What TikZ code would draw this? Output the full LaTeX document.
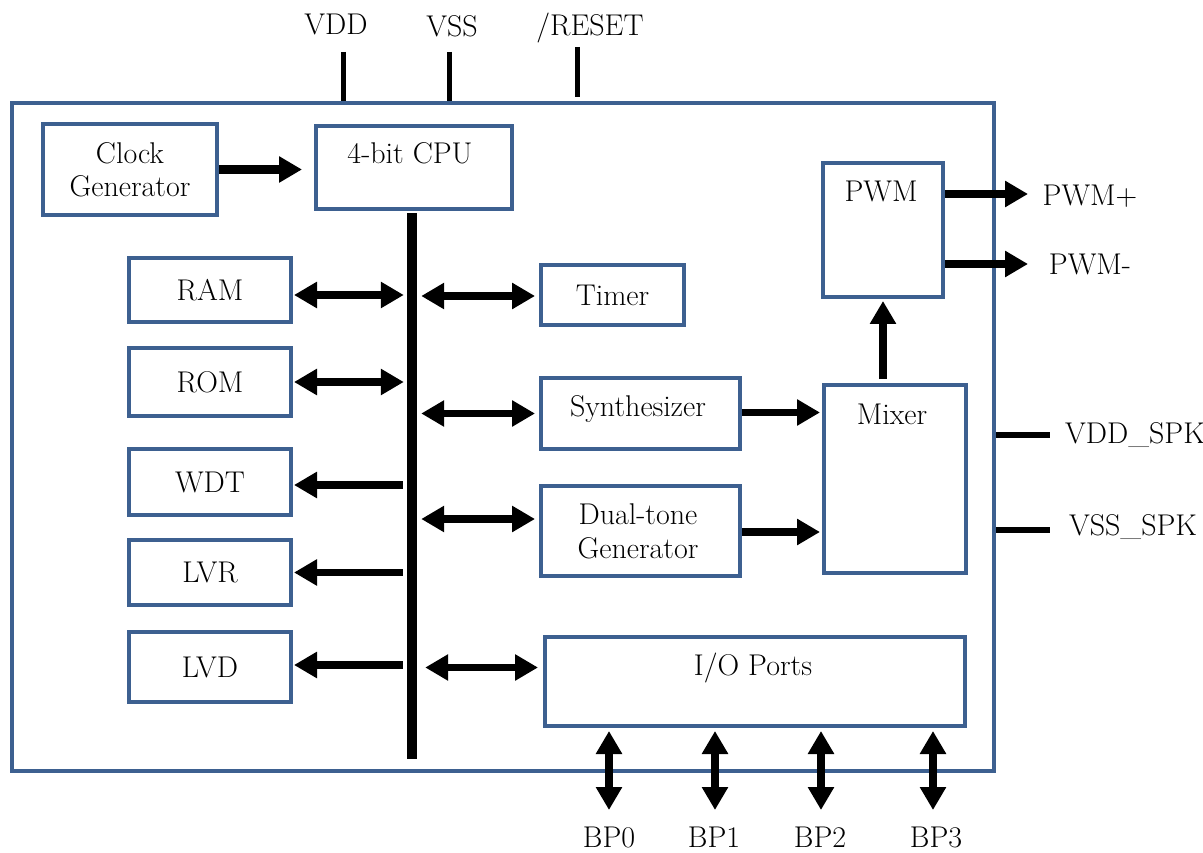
\documentclass[tikz,border=0pt]{standalone}
\usetikzlibrary{arrows.meta,calc}
\definecolor{boxblue}{HTML}{3D6090}
\begin{document}
\begin{tikzpicture}[x=1pt,y=-1pt,
  box/.style={draw=boxblue,line width=4pt,fill=white,inner sep=0pt,anchor=north west,font=\fontsize{30}{35}\selectfont,align=center},
  txt/.style={font=\fontsize{30}{35}\selectfont,inner sep=0pt},
  sarr/.style={line width=7.5pt,-{Triangle[length=23pt,width=25pt]}},
  darr/.style={line width=7.5pt,{Triangle[length=23pt,width=25pt]}-{Triangle[length=23pt,width=25pt]}},
  pin/.style={line width=5pt}]
\useasboundingbox (0,0) rectangle (1203,853);
% outer chip
\node[box,minimum width=982pt,minimum height=668pt] (chip) at (10,101) {};
% pins top
\coordinate (vddT) at (343,52);
\coordinate (vssT) at (449,52);
\coordinate (rstT) at (577,47);
\draw[pin] (vddT) -- (vddT |- chip.north);
\draw[pin] (vssT) -- (vssT |- chip.north);
\draw[pin] (rstT) -- ($(rstT |- chip.north)+(0,-4)$);
\node[txt,anchor=base] (vddL) at (336,35) {VDD};
\node[txt,anchor=base] (vssL) at (452,37) {VSS};
\node[txt,anchor=base] (rstL) at (590,36) {/RESET};
% blocks
\node[box,minimum width=174pt,minimum height=91pt] (clk) at (41,122) {Clock\\[-2pt]Generator};
\node[box,minimum width=196pt,minimum height=83pt] (cpu) at (314,124) {};
\node[txt,anchor=base] (cpuL) at (410,164) {4-bit CPU};
\node[fill=black,inner sep=0pt,minimum width=10pt,minimum height=546pt,anchor=north] (bus) at (412,213) {};
\node[box,minimum width=162pt,minimum height=64pt] (ram) at (127,256) {RAM};
\node[box,minimum width=162pt,minimum height=68pt] (rom) at (127,346) {ROM};
\node[box,minimum width=162pt,minimum height=66pt] (wdt) at (127,447) {WDT};
\node[box,minimum width=162pt,minimum height=65pt] (lvr) at (127,538) {LVR};
\node[box,minimum width=162pt,minimum height=70pt] (lvd) at (127,630) {LVD};
\node[box,minimum width=143pt,minimum height=60pt] (timer) at (539,263) {Timer};
\node[box,minimum width=199pt,minimum height=71pt] (syn) at (539,376) {};
\node[txt,anchor=base] (synL) at (638,416) {Synthesizer};
\node[box,minimum width=199pt,minimum height=90pt] (dtg) at (539,484) {};
\node[txt,anchor=base,align=center] (dtgL) at (638,524) {Dual-tone};
\node[txt,anchor=base,align=center] (dtgL2) at (638,558) {Generator};
\node[box,minimum width=142pt,minimum height=188pt] (mix) at (822,383) {};
\node[txt,anchor=base] (mixL) at (892,424) {Mixer};
\node[box,minimum width=120pt,minimum height=134pt] (pwm) at (821,161) {};
\node[txt,anchor=base] (pwmL) at (881,202) {PWM};
\node[box,minimum width=420pt,minimum height=89pt] (io) at (543,635) {};
\node[txt,anchor=base] (ioL) at (753,675) {I/O Ports};
% arrows
\draw[sarr,line width=9pt] (clk.east) -- ($(cpu.west |- clk.east)+(-12,0)$);
\draw[darr] ($(ram.east)+(1,5)$) -- ($(bus.west |- ram)+(-3,5)$);
\draw[darr] ($(rom.east)+(1,0)$) -- ($(bus.west |- rom)+(-3,0)$);
\draw[sarr] ($(bus.west |- wdt)+(-4,3)$) -- ($(wdt.east)+(1,3)$);
\draw[sarr] ($(bus.west |- lvr)+(-4,0)$) -- ($(lvr.east)+(1,0)$);
\draw[sarr] ($(bus.west |- lvd)+(-4,-2)$) -- ($(lvd.east)+(1,-2)$);
\draw[darr] ($(bus.east |- timer)+(4,1)$) -- ($(timer.west)+(-4,1)$);
\draw[darr] ($(bus.east |- syn)+(4,0)$) -- ($(syn.west)+(-4,0)$);
\draw[darr] ($(bus.east |- dtg)+(4,-12)$) -- ($(dtg.west)+(-4,-12)$);
\draw[darr] ($(bus.east |- io)+(8,-14)$) -- ($(io.west)+(-5,-14)$);
\draw[sarr] ($(syn.east)+(0,-1)$) -- ($(mix.west |- syn)+(-2,-1)$);
\draw[sarr] ($(dtg.east)+(0,1)$) -- ($(mix.west |- dtg)+(-2,1)$);
\draw[sarr] ($(pwm.south |- mix.north)+(0,-4)$) -- ($(pwm.south)+(0,2)$);
% outputs
\coordinate (pwmP) at (1028,194);
\coordinate (pwmM) at (1028,264);
\draw[sarr] (pwm.east |- pwmP) -- (pwmP);
\draw[sarr] (pwm.east |- pwmM) -- (pwmM);
\node[txt,anchor=base] (pwmPL) at (1090,206) {PWM+};
\node[txt,anchor=base] (pwmML) at (1090,275) {PWM-};
\coordinate (vddS) at (1050,435);
\coordinate (vssS) at (1050,530);
\draw[pin,line width=6pt] (chip.east |- vddS) -- (vddS);
\draw[pin,line width=6pt] (chip.east |- vssS) -- (vssS);
\node[txt,anchor=base] (vddSL) at (1135,443) {VDD\_SPK};
\node[txt,anchor=base] (vssSL) at (1133,535) {VSS\_SPK};
% BP arrows
\foreach \x/\n/\lx in {609/0/609,715/1/714,821/2/820,933/3/936}{
  \coordinate (bp\n) at (\x,810);
  \draw[darr] ($(bp\n |- io.south)+(0,3)$) -- (bp\n);
  \node[txt,anchor=base] (bpL\n) at (\lx,847) {BP\n};
}
\end{tikzpicture}
\end{document}
